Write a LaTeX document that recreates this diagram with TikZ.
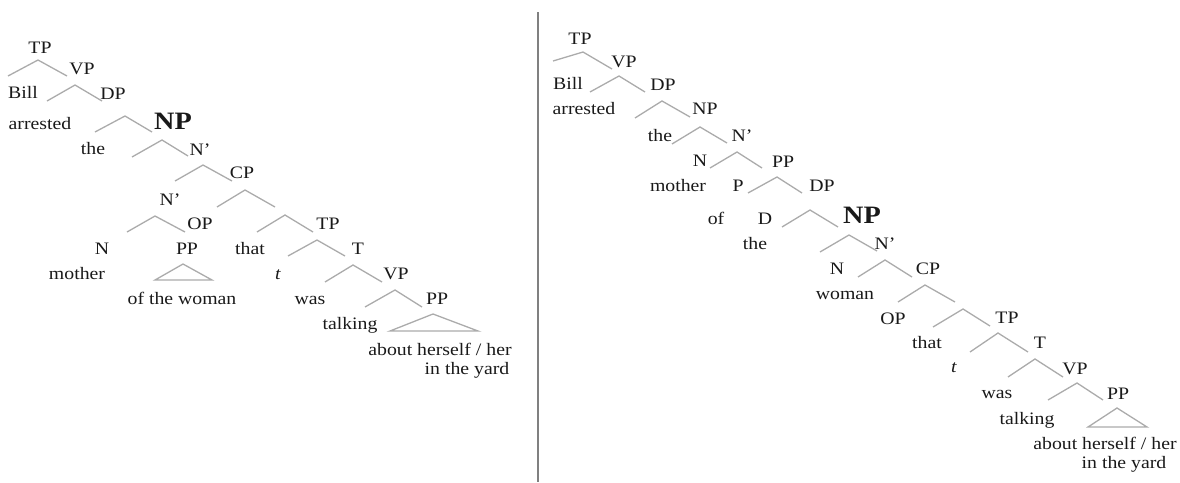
\documentclass[tikz,border=0pt]{standalone}
\usepackage{fontspec}
\setmainfont{Liberation Serif}[FakeStretch=1.13]

\tikzset{
  branch/.style={draw=black!33, line width=1.3pt},
  divider/.style={draw=black!50, line width=1.6pt},
  lbl/.style={text=black!90, inner sep=0pt, anchor=base, yshift=-6pt,
              font=\fontsize{17.5}{20}\selectfont},
  bignp/.style={lbl, yshift=-2.5pt, font=\fontsize{25}{28}\selectfont\bfseries}
}

\begin{document}
\begin{tikzpicture}[x=1pt,y=-1pt]
  \useasboundingbox (0,0) rectangle (1180,482);

  % left tree
  \node[lbl] (ltp) at (40,47) {TP};
  \node[lbl] (lvp) at (82,68) {VP};
  \node[lbl] (lbill) at (23,92) {Bill};
  \node[lbl] (ldp) at (113,93) {DP};
  \node[lbl] (larr) at (40,123) {arrested};
  \node[bignp] (lnp) at (173,121) {NP};
  \node[lbl] (lthe) at (93,148) {the};
  \node[lbl] (lnbar) at (200,149) {N'};
  \node[lbl] (lcp) at (242,172) {CP};
  \node[lbl] (lnbarb) at (170,199) {N'};
  \node[lbl] (lop) at (200,223) {OP};
  \node[lbl] (ln) at (102,248) {N};
  \node[lbl] (lpp) at (187,248) {PP};
  \node[lbl] (lthat) at (250,248) {that};
  \node[lbl] (lmother) at (77,273) {mother};
  \node[lbl] (lwoman) at (182,298) {of the woman};
  \node[lbl] (ltpb) at (328,223) {TP};
  \node[lbl] (lt) at (358,248) {T};
  \node[lbl] (ltrace) at (278,273) {\textit{t}};
  \node[lbl] (lvpb) at (396,273) {VP};
  \node[lbl] (lwas) at (310,298) {was};
  \node[lbl] (lppb) at (437,298) {PP};
  \node[lbl] (ltalk) at (350,323) {talking};
  \node[lbl] (labout) at (440,349) {about herself / her};
  \node[lbl] (lyard) at (467,368) {in the yard};

  \draw[branch] (8,76)--(38,60)--(67,76) (47,101)--(75,85)--(102,101)
                (95,132)--(125,116)--(152,132) (132,157)--(162,140)--(188,156)
                (175,181)--(203,165)--(232,181) (217,207)--(245,190)--(275,207)
                (127,232)--(155,216)--(185,232) (257,232)--(285,215)--(313,232)
                (288,256)--(317,240)--(345,256) (325,282)--(353,265)--(382,282)
                (365,307)--(395,290)--(422,307);
  \draw[branch] (155,280)--(183,264)--(212,280)--cycle;
  \draw[branch] (390,331)--(433,314)--(478,331)--cycle;

  \draw[divider] (538,12)--(538,482);

  % right tree
  \node[lbl] (rtp) at (580,38) {TP};
  \node[lbl] (rvp) at (624,61) {VP};
  \node[lbl] (rbill) at (568,83) {Bill};
  \node[lbl] (rdp) at (663,84) {DP};
  \node[lbl] (rarr) at (584,108) {arrested};
  \node[lbl] (rnp) at (705,108) {NP};
  \node[lbl] (rthe) at (660,135) {the};
  \node[lbl] (rnbar) at (742,135) {N'};
  \node[lbl] (rn) at (700,160) {N};
  \node[lbl] (rpp) at (783,161) {PP};
  \node[lbl] (rmother) at (678,185) {mother};
  \node[lbl] (rp) at (738,185) {P};
  \node[lbl] (rdpb) at (822,185) {DP};
  \node[lbl] (rof) at (716,218) {of};
  \node[lbl] (rd) at (765,218) {D};
  \node[bignp] (rnpb) at (862,215) {NP};
  \node[lbl] (rtheb) at (755,243) {the};
  \node[lbl] (rnbarb) at (885,243) {N'};
  \node[lbl] (rnb) at (837,268) {N};
  \node[lbl] (rcp) at (928,268) {CP};
  \node[lbl] (rwoman) at (845,293) {woman};
  \node[lbl] (rop) at (893,318) {OP};
  \node[lbl] (rtpb) at (1007,317) {TP};
  \node[lbl] (rthat) at (927,342) {that};
  \node[lbl] (rt) at (1040,342) {T};
  \node[lbl] (rtrace) at (954,366) {\textit{t}};
  \node[lbl] (rvpb) at (1075,368) {VP};
  \node[lbl] (rwas) at (997,392) {was};
  \node[lbl] (rppb) at (1118,393) {PP};
  \node[lbl] (rtalk) at (1027,418) {talking};
  \node[lbl] (rabout) at (1105,443) {about herself / her};
  \node[lbl] (ryard) at (1124,462) {in the yard};

  \draw[branch] (553,61)--(583,52)--(612,69) (590,92)--(619,76)--(645,92)
                (635,118)--(662,101)--(690,117) (672,144)--(700,127)--(727,143)
                (710,168)--(737,152)--(762,168) (748,193)--(777,177)--(802,193)
                (782,227)--(810,210)--(838,227) (820,252)--(849,235)--(877,251)
                (858,277)--(885,260)--(912,277) (898,302)--(925,285)--(955,302)
                (933,327)--(963,309)--(990,326) (970,352)--(998,333)--(1028,352)
                (1008,377)--(1035,359)--(1063,377) (1048,400)--(1077,383)--(1103,400);
  \draw[branch] (1088,427)--(1117,408)--(1147,427)--cycle;
\end{tikzpicture}
\end{document}
